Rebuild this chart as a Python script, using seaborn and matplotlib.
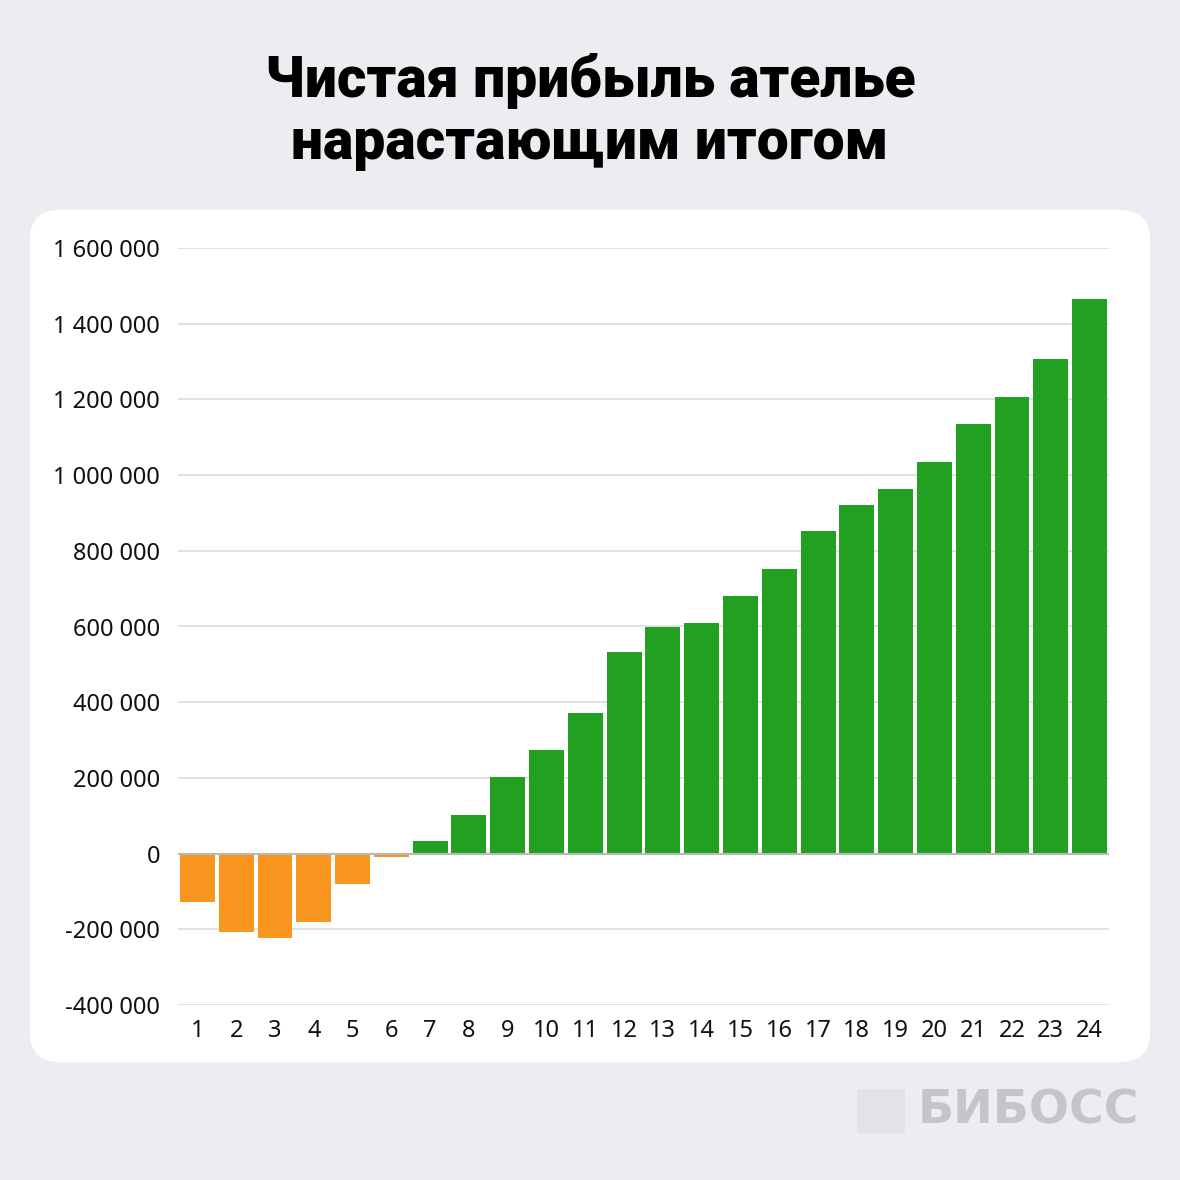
import matplotlib
matplotlib.use("Agg")
import matplotlib.pyplot as plt
import seaborn as sns
import pandas as pd
from matplotlib.patches import FancyBboxPatch, Rectangle
from matplotlib.ticker import FuncFormatter

months = [str(i) for i in range(1, 25)]
profit = [-128000, -208000, -222000, -180000, -80000, -10000, 32000, 103000,
          203000, 274000, 372000, 533000, 599000, 610000, 681000, 752000,
          853000, 921000, 964000, 1035000, 1135000, 1206000, 1307000, 1465000]
yticks = [-400000, -200000, 0, 200000, 400000, 600000, 800000, 1000000,
          1200000, 1400000, 1600000]
title = "Чистая прибыль ателье\nнарастающим итогом"
brand = "БИБОСС"

BG = "#ecedf1"
ORANGE = "#f8961f"
GREEN = "#21a021"

sns.set_theme(style="white")
plt.rcParams['font.family'] = ['Noto Sans', 'DejaVu Sans']

df = pd.DataFrame({"month": months, "profit": profit})
df["sign"] = ["neg" if v < 0 else "pos" for v in profit]

fig = plt.figure(figsize=(11.8, 11.8), dpi=100)
fig.patch.set_facecolor(BG)

# white card
card = FancyBboxPatch((30/1180, 1-1062/1180), 1120/1180, 852/1180,
                      boxstyle="round,pad=0,rounding_size=0.025",
                      transform=fig.transFigure, facecolor="white",
                      edgecolor="none", zorder=-5)
fig.patches.append(card)

ax = fig.add_axes([178/1180, 1-1005/1180, (1109-178)/1180, (1005-248)/1180])
ax.set_zorder(5)
ax.set_facecolor("none")
sns.barplot(data=df, x="month", y="profit", hue="sign",
            palette={"neg": ORANGE, "pos": GREEN}, dodge=False,
            width=0.9, legend=False, ax=ax, zorder=3, saturation=1,
            linewidth=0)
ax.set_ylim(-400000, 1600000)
ax.set_xlim(-0.5, 23.5)
ax.set_yticks(yticks)
ax.yaxis.set_major_formatter(FuncFormatter(
    lambda v, p: f"{int(v):,}".replace(",", " ")))
ax.grid(axis="y", color="#dcdcdc", linewidth=1.2, zorder=0)
ax.set_axisbelow(True)
ax.axhline(0, color="#b9b9b9", linewidth=1.5, zorder=4)
for s in ax.spines.values():
    s.set_visible(False)
ax.set_xlabel("")
ax.set_ylabel("")
ax.tick_params(axis="both", length=0, labelsize=17, colors="#111111")
ax.tick_params(axis="y", pad=13)
ax.tick_params(axis="x", pad=10)

fig.text(0.5, 1-112/1180, title, ha="center", va="center",
         fontsize=41, fontweight="black", family=["Roboto", "DejaVu Sans"],
         color="black", linespacing=1.15)

# logo
fig.patches.append(Rectangle((857/1180, 1-1133/1180), 48/1180, 44/1180,
                             transform=fig.transFigure, facecolor="#e2e3e6",
                             edgecolor="none"))
fig.text(918/1180, 1-1111/1180, brand, ha="left", va="center",
         fontsize=34, fontweight="bold", color="#c4c5c8",
         family=["DejaVu Sans"])

fig.savefig("out.png", dpi=100, facecolor=BG)
